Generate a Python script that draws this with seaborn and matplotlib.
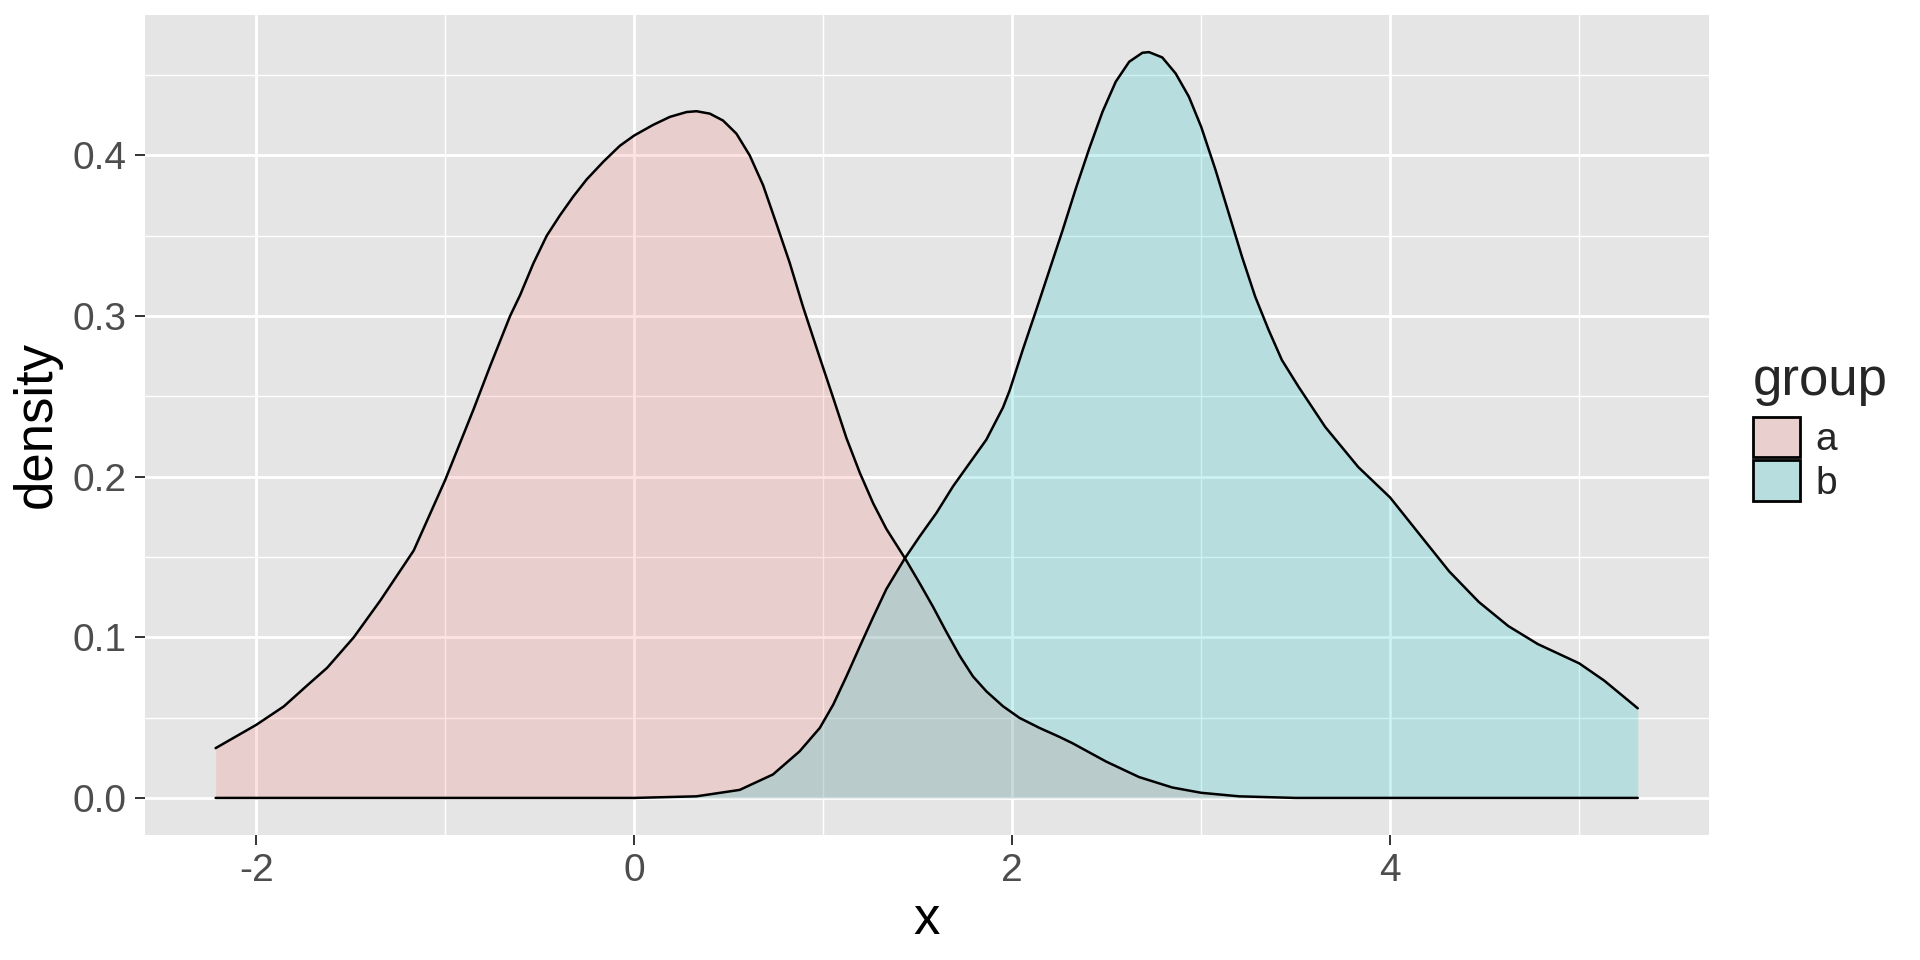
import numpy as np
import pandas as pd
import matplotlib
matplotlib.use("Agg")
import matplotlib.pyplot as plt
from matplotlib.patches import Patch
from matplotlib.colors import to_rgb
import seaborn as sns

# density curves (x, density)
a_x = [-2.215, -2.0, -1.854, -1.731, -1.625, -1.484, -1.343, -1.167, -1.0, -0.85,
       -0.762, -0.657, -0.604, -0.534, -0.463, -0.393, -0.322, -0.252, -0.164, -0.076,
       0.0, 0.1, 0.189, 0.277, 0.329, 0.4, 0.47, 0.541, 0.611, 0.682,
       0.752, 0.823, 0.893, 0.982, 1.053, 1.123, 1.194, 1.264, 1.334, 1.431,
       1.511, 1.581, 1.651, 1.722, 1.792, 1.863, 1.951, 2.039, 2.144, 2.25,
       2.32, 2.496, 2.671, 2.847, 3.0, 3.2, 3.5, 5.31]
a_y = [0.031, 0.0455, 0.057, 0.070, 0.081, 0.100, 0.123, 0.154, 0.198, 0.242,
       0.269, 0.300, 0.313, 0.3327, 0.350, 0.3627, 0.3745, 0.385, 0.396, 0.406,
       0.4124, 0.419, 0.424, 0.427, 0.4275, 0.426, 0.4217, 0.4135, 0.400, 0.3814,
       0.3576, 0.333, 0.3058, 0.274, 0.249, 0.224, 0.2023, 0.1835, 0.1675, 0.1495,
       0.1335, 0.119, 0.1035, 0.0885, 0.0757, 0.0664, 0.0571, 0.0498, 0.0436, 0.038,
       0.034, 0.0227, 0.013, 0.0065, 0.0032, 0.001, 0.0, 0.0]

b_x = [-2.215, 0.0, 0.329, 0.558, 0.734, 0.875, 0.982, 1.053, 1.123, 1.194,
       1.264, 1.334, 1.431, 1.511, 1.599, 1.687, 1.775, 1.863, 1.951, 1.986,
       2.056, 2.127, 2.197, 2.267, 2.337, 2.408, 2.478, 2.548, 2.619, 2.689,
       2.724, 2.794, 2.865, 2.935, 3.0, 3.076, 3.146, 3.216, 3.286, 3.357,
       3.427, 3.515, 3.656, 3.831, 4.0, 4.156, 4.3125, 4.469, 4.625, 4.781,
       5.0, 5.133, 5.31]
b_y = [0.0, 0.0, 0.001, 0.005, 0.0146, 0.029, 0.0436, 0.0581, 0.0757, 0.0944,
       0.1125, 0.130, 0.149, 0.1629, 0.1774, 0.194, 0.2085, 0.223, 0.243, 0.2535,
       0.279, 0.3037, 0.3286, 0.3535, 0.3795, 0.4044, 0.4272, 0.4459, 0.4583, 0.4639,
       0.4643, 0.461, 0.451, 0.4365, 0.4178, 0.3909, 0.3639, 0.3369, 0.312, 0.2913,
       0.2726, 0.256, 0.231, 0.206, 0.187, 0.164, 0.141, 0.122, 0.107, 0.0958,
       0.0838, 0.073, 0.0558]

groups = ["a", "b"]
colors = {"a": "#F8766D", "b": "#00BFC4"}
x_ticks = [-2, 0, 2, 4]
y_ticks = [0.0, 0.1, 0.2, 0.3, 0.4]

df = pd.concat([
    pd.DataFrame({"x": a_x, "density": a_y, "group": "a"}),
    pd.DataFrame({"x": b_x, "density": b_y, "group": "b"}),
])

panel = "#E5E5E5"
alpha = 0.2

sns.set_theme(style="darkgrid", rc={
    "axes.facecolor": panel,
    "grid.color": "white",
    "axes.edgecolor": panel,
    "axes.unicode_minus": False,
})
plt.rcParams["font.family"] = ["Liberation Sans", "DejaVu Sans"]

fig, ax = plt.subplots(figsize=(19.2, 9.6), dpi=100)
fig.subplots_adjust(left=0.0753, right=0.890, bottom=0.130, top=0.9847)

for g in groups:
    sub = df[df["group"] == g]
    ax.fill_between(sub["x"], 0, sub["density"], color=colors[g], alpha=alpha,
                    linewidth=0, zorder=2)
    sns.lineplot(data=sub, x="x", y="density", color="black", linewidth=1.8,
                 ax=ax, zorder=3, estimator=None, sort=False)

ax.set_xlim(-2.591, 5.686)
ax.set_ylim(-0.0232, 0.4876)
ax.set_xticks(x_ticks)
ax.set_xticklabels([str(t) for t in x_ticks])
ax.set_yticks(y_ticks)
ax.set_yticklabels([f"{t:.1f}" for t in y_ticks])
ax.set_xticks([-1, 1, 3, 5], minor=True)
ax.set_yticks([0.05, 0.15, 0.25, 0.35, 0.45], minor=True)
ax.grid(which="major", color="white", linewidth=2.0)
ax.grid(which="minor", color="white", linewidth=1.0)
ax.set_axisbelow(True)
for s in ax.spines.values():
    s.set_visible(False)

ax.tick_params(axis="both", which="major", length=7, width=1.4, color="#333333",
               labelsize=28, labelcolor="#4D4D4D", pad=6, bottom=True, left=True)
ax.tick_params(axis="both", which="minor", length=0)

ax.set_xlabel("x", fontsize=38, color="black", labelpad=4)
ax.set_ylabel("density", fontsize=38, color="black", labelpad=8)

def blend(c):
    r = np.array(to_rgb(c)) * alpha + np.array(to_rgb(panel)) * (1 - alpha)
    return tuple(r)

handles = [Patch(facecolor=blend(colors[g]), edgecolor="black", linewidth=2.0, label=g)
           for g in groups]
leg = fig.legend(handles=handles, title="group", loc="upper left",
                 bbox_to_anchor=(1753 / 1920, 1 - 356 / 960), frameon=False,
                 fontsize=28, title_fontsize=38, handlelength=1.2, handleheight=1.22,
                 labelspacing=0.05, handletextpad=0.4, borderaxespad=0, borderpad=0)
leg._legend_box.align = "left"
leg._legend_box.sep = 8

fig.savefig("out.png", dpi=100)
